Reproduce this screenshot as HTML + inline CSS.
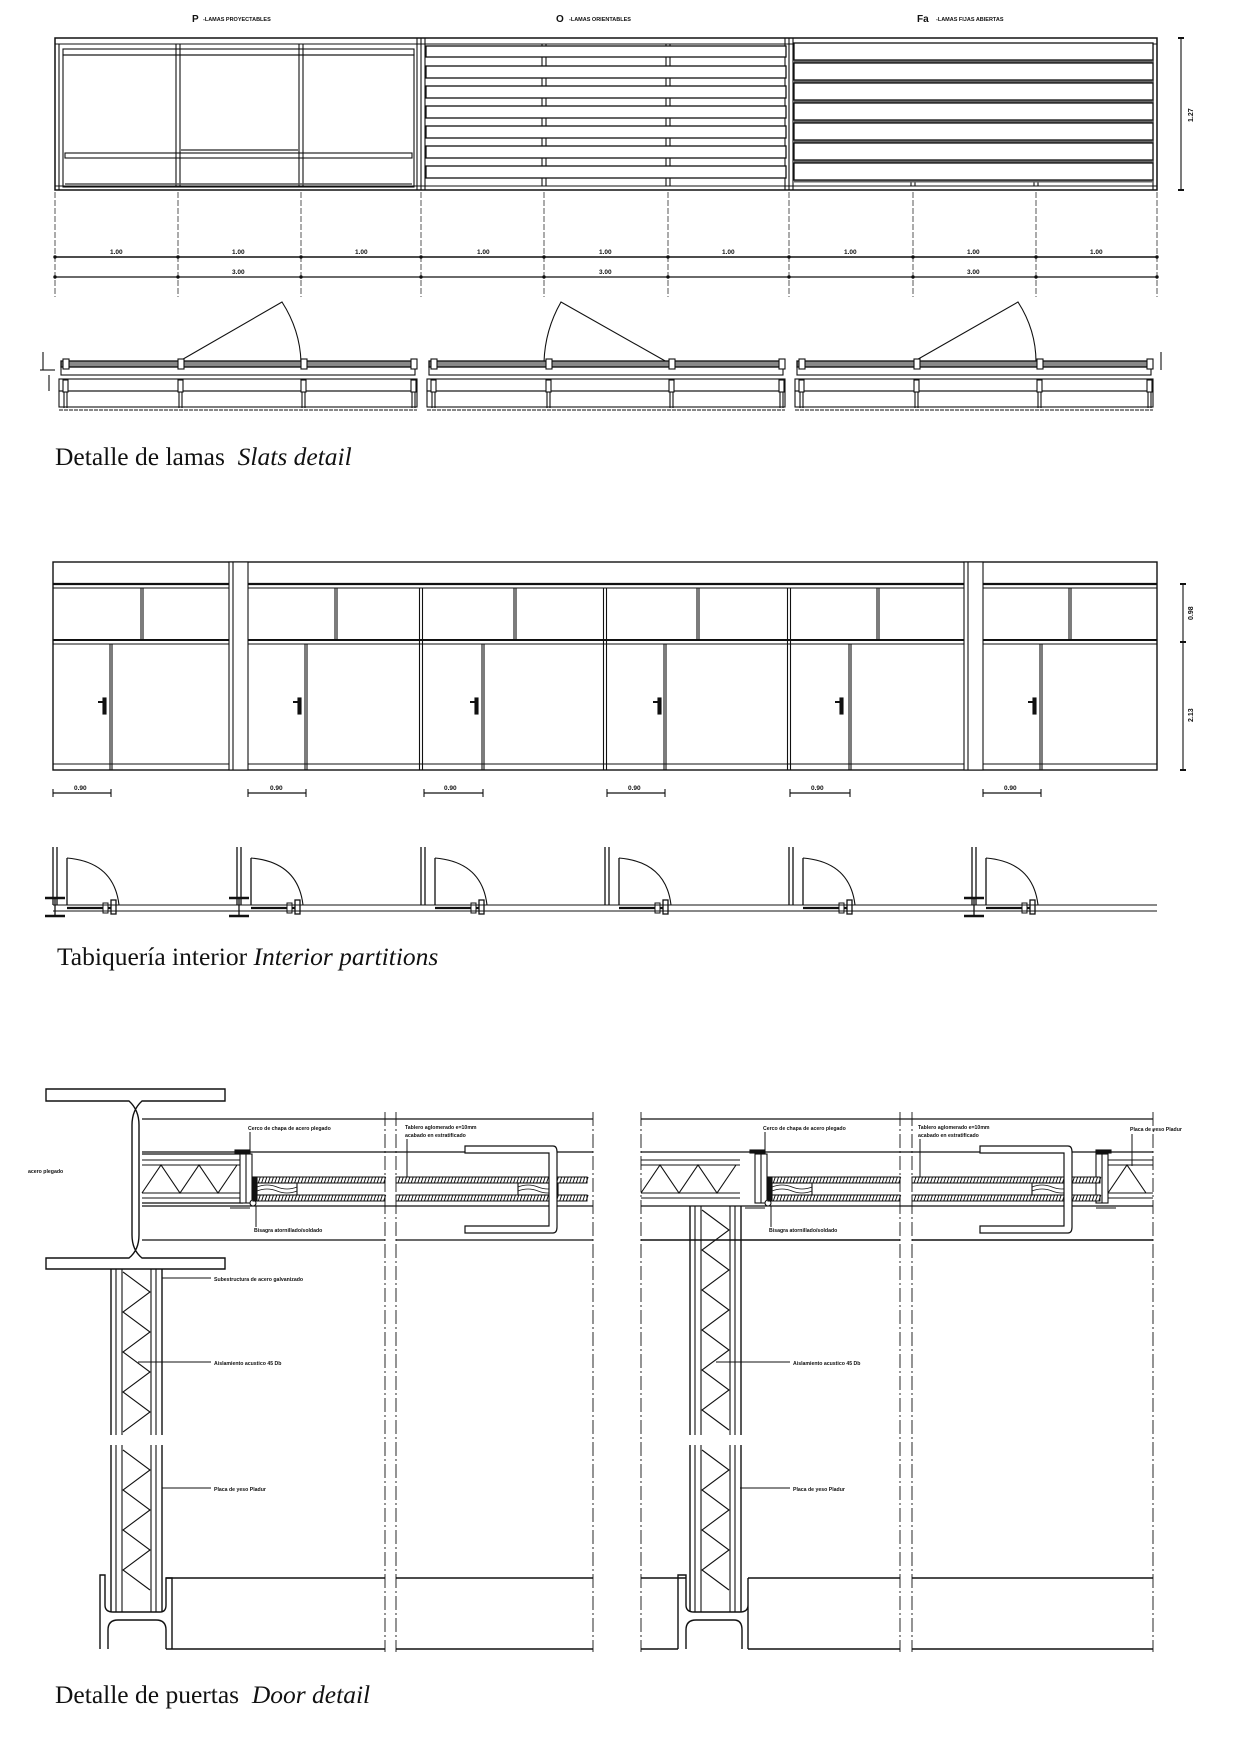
<!DOCTYPE html>
<html><head><meta charset="utf-8">
<style>
html,body{margin:0;padding:0;background:#fff;}
svg{display:block;}
.t{font-family:"Liberation Sans",sans-serif;font-weight:bold;fill:#111;}
.cap{font-family:"Liberation Serif",serif;font-size:25.5px;fill:#111;}
</style></head>
<body>
<svg id="s" width="1254" height="1738" viewBox="0 0 1254 1738" xmlns="http://www.w3.org/2000/svg" fill="none" stroke="#111" stroke-width="1.1">
<!-- ===== SLATS ===== -->
<text class="t" x="192" y="22" font-size="10" stroke="none" font-weight="normal">P</text>
<text class="t" x="203" y="21" font-size="5.5" stroke="none">-LAMAS PROYECTABLES</text>
<text class="t" x="556" y="22" font-size="10" stroke="none" font-weight="normal">O</text>
<text class="t" x="569" y="21" font-size="5.5" stroke="none">-LAMAS ORIENTABLES</text>
<text class="t" x="917" y="22" font-size="10" stroke="none" font-weight="normal">Fa</text>
<text class="t" x="936" y="21" font-size="5.5" stroke="none">-LAMAS FIJAS ABIERTAS</text>

<rect x="55" y="38" width="1102" height="152" stroke-width="1.5"/>
<line x1="55" y1="44" x2="1157" y2="44"/>
<line x1="55" y1="186" x2="1157" y2="186"/>
<line x1="417" y1="38" x2="417" y2="190"/><line x1="421" y1="38" x2="421" y2="190"/><line x1="425" y1="38" x2="425" y2="190"/>
<line x1="785" y1="38" x2="785" y2="190"/><line x1="789" y1="38" x2="789" y2="190"/><line x1="793" y1="38" x2="793" y2="190"/>
<line x1="59" y1="44" x2="59" y2="190"/><line x1="1153" y1="44" x2="1153" y2="190"/>
<!-- P panel -->
<rect x="63" y="49" width="351" height="6"/>
<rect x="63" y="55" width="351" height="132"/>
<rect x="65" y="153" width="347" height="5"/>
<line x1="176" y1="44" x2="176" y2="187"/><line x1="180" y1="44" x2="180" y2="187"/>
<line x1="299" y1="44" x2="299" y2="187"/><line x1="303" y1="44" x2="303" y2="187"/>
<line x1="180" y1="150" x2="299" y2="150" stroke="#777" stroke-width="2"/>
<line x1="65" y1="184" x2="412" y2="184" stroke="#555" stroke-width="1.5"/>
<g id="vcols"></g>
<g id="slatsO"></g>
<g id="slatsF"></g>
<!-- right dim -->
<line x1="1181" y1="38" x2="1181" y2="190"/>
<line x1="1178" y1="38" x2="1184" y2="38" stroke-width="2"/><line x1="1178" y1="190" x2="1184" y2="190" stroke-width="2"/>
<text class="t" font-size="7" stroke="none" transform="translate(1193,122) rotate(-90)">1.27</text>
<!-- dims -->
<g id="dims" stroke-width="0.8"></g>
<line x1="55" y1="257" x2="1157" y2="257" stroke-width="1.5"/>
<line x1="55" y1="277" x2="1157" y2="277" stroke-width="1.2"/>
<g class="t" font-size="6.5" stroke="none">
<text x="110" y="254">1.00</text><text x="232" y="254">1.00</text><text x="355" y="254">1.00</text>
<text x="477" y="254">1.00</text><text x="599" y="254">1.00</text><text x="722" y="254">1.00</text>
<text x="844" y="254">1.00</text><text x="967" y="254">1.00</text><text x="1090" y="254">1.00</text>
<text x="232" y="274">3.00</text><text x="599" y="274">3.00</text><text x="967" y="274">3.00</text>
</g>
<!-- plan swings -->
<path d="M178 362 L282 302 Q300 330 301 362"/>
<path d="M667 362 L561 302 Q545 330 544 362"/>
<path d="M913 362 L1018 302 Q1036 330 1036 362"/>
<g id="plan"></g>
<text class="cap" x="55" y="465" stroke="none">Detalle de lamas <tspan font-style="italic">&#160;Slats detail</tspan></text>

<!-- ===== PARTITIONS ===== -->
<rect x="53" y="562" width="1104" height="208" stroke-width="1.4"/>
<line x1="53" y1="584" x2="1157" y2="584" stroke-width="2.2"/>
<line x1="53" y1="588" x2="1157" y2="588"/>
<line x1="53" y1="640" x2="1157" y2="640" stroke-width="2"/>
<line x1="53" y1="644" x2="1157" y2="644"/>
<line x1="53" y1="764" x2="1157" y2="764"/>
<rect x="229" y="562" width="19" height="208" fill="#fff"/>
<rect x="964" y="562" width="19" height="208" fill="#fff"/>
<line x1="233" y1="562" x2="233" y2="770"/><line x1="968" y1="562" x2="968" y2="770"/>
<g id="part"></g>
<line x1="1183" y1="584" x2="1183" y2="770"/>
<g stroke-width="2"><line x1="1180" y1="584" x2="1186" y2="584"/><line x1="1180" y1="642" x2="1186" y2="642"/><line x1="1180" y1="770" x2="1186" y2="770"/></g>
<text class="t" font-size="7" stroke="none" transform="translate(1193,620) rotate(-90)">0.98</text>
<text class="t" font-size="7" stroke="none" transform="translate(1193,722) rotate(-90)">2.13</text>
<g class="t" font-size="6.5" stroke="none">
<text x="74" y="790">0.90</text><text x="270" y="790">0.90</text><text x="444" y="790">0.90</text>
<text x="628" y="790">0.90</text><text x="811" y="790">0.90</text><text x="1004" y="790">0.90</text>
</g>
<line x1="53" y1="905" x2="1157" y2="905"/><line x1="53" y1="911" x2="1157" y2="911"/>
<text class="cap" x="57" y="965" stroke="none">Tabiquería interior <tspan font-style="italic">Interior partitions</tspan></text>

<!-- ===== DOOR DETAIL ===== -->
<path d="M46 1089 H225 V1101 H142 Q132 1110 132 1125 V1235 Q132 1250 142 1258 H225 V1269 H46 V1258 H129 Q139 1250 139 1235 V1125 Q139 1110 129 1101 H46 Z" stroke-width="1.4"/>
<g stroke-width="1.2">
<line x1="142" y1="1119" x2="593" y2="1119"/><line x1="641" y1="1119" x2="1153" y2="1119"/>
<line x1="142" y1="1152" x2="593" y2="1152"/><line x1="641" y1="1152" x2="1153" y2="1152"/>
<line x1="142" y1="1154" x2="243" y2="1154"/>
<line x1="142" y1="1203" x2="243" y2="1203"/>
<line x1="142" y1="1206" x2="593" y2="1206"/><line x1="641" y1="1206" x2="1153" y2="1206"/>
<line x1="142" y1="1240" x2="385" y2="1240"/><line x1="396" y1="1240" x2="593" y2="1240"/>
<line x1="641" y1="1240" x2="900" y2="1240" stroke-width="1.6"/><line x1="912" y1="1240" x2="1153" y2="1240" stroke-width="1.6"/>
</g>
<g id="door"></g>
<g class="t" font-size="5.2" stroke="none">
<text x="28" y="1173">acero plegado</text>
<text x="248" y="1130">Cerco de chapa de acero plegado</text>
<text x="405" y="1129">Tablero aglomerado e=10mm</text>
<text x="405" y="1137">acabado en estratificado</text>
<text x="254" y="1232">Bisagra atornillado/soldado</text>
<text x="214" y="1281">Subestructura de acero galvanizado</text>
<text x="214" y="1365">Aislamiento acustico 45 Db</text>
<text x="214" y="1491">Placa de yeso Pladur</text>
<text x="763" y="1130">Cerco de chapa de acero plegado</text>
<text x="918" y="1129">Tablero aglomerado e=10mm</text>
<text x="918" y="1137">acabado en estratificado</text>
<text x="1130" y="1131">Placa de yeso Pladur</text>
<text x="769" y="1232">Bisagra atornillado/soldado</text>
<text x="793" y="1365">Aislamiento acustico 45 Db</text>
<text x="793" y="1491">Placa de yeso Pladur</text>
</g>
<g stroke-width="1">
<line x1="162" y1="1278" x2="211" y2="1278"/>
<line x1="138" y1="1362" x2="211" y2="1362"/>
<line x1="162" y1="1488" x2="211" y2="1488"/>
<line x1="716" y1="1362" x2="790" y2="1362"/>
<line x1="740" y1="1488" x2="790" y2="1488"/>
<line x1="250" y1="1132" x2="250" y2="1152"/>
<line x1="765" y1="1132" x2="765" y2="1152"/>
<line x1="256" y1="1206" x2="256" y2="1227"/>
<line x1="771" y1="1206" x2="771" y2="1227"/>
<line x1="407" y1="1139" x2="407" y2="1177"/>
<line x1="920" y1="1139" x2="920" y2="1177"/>
<line x1="1132" y1="1134" x2="1132" y2="1166"/>
</g>
<g stroke-width="1.4">
<line x1="166" y1="1578" x2="385" y2="1578"/><line x1="396" y1="1578" x2="593" y2="1578"/>
<line x1="166" y1="1649" x2="385" y2="1649"/><line x1="396" y1="1649" x2="593" y2="1649"/>
<line x1="641" y1="1578" x2="686" y2="1578"/><line x1="748" y1="1578" x2="900" y2="1578"/><line x1="912" y1="1578" x2="1153" y2="1578"/>
<line x1="641" y1="1649" x2="678" y2="1649"/><line x1="748" y1="1649" x2="900" y2="1649"/><line x1="912" y1="1649" x2="1153" y2="1649"/>
<path d="M100 1649 V1575 H105 V1605 Q105 1612 113 1612 H160 Q166 1612 166 1605 V1578 H172 V1649 M108 1649 V1630 Q108 1620 118 1620 H156 Q166 1620 166 1630 V1649"/>
<path d="M678 1649 V1575 H686 V1605 Q686 1612 694 1612 H740 Q748 1612 748 1605 V1578 H748 V1649 M686 1649 V1630 Q686 1620 696 1620 H734 Q742 1620 742 1630 V1649"/>
</g>
<text class="cap" x="55" y="1703" stroke="none">Detalle de puertas <tspan font-style="italic">&#160;Door detail</tspan></text>
</svg>
<script>
var NS="http://www.w3.org/2000/svg";
function el(p,tag,a){var e=document.createElementNS(NS,tag);for(var k in a)e.setAttribute(k,a[k]);document.getElementById(p).appendChild(e);return e;}
function L(p,x1,y1,x2,y2,w,extra){var a={x1:x1,y1:y1,x2:x2,y2:y2};if(w)a["stroke-width"]=w;if(extra)for(var k in extra)a[k]=extra[k];return el(p,"line",a);}
function R(p,x,y,w,h,a){var o={x:x,y:y,width:w,height:h};if(a)for(var k in a)o[k]=a[k];return el(p,"rect",o);}
[544,668,913,1036].forEach(function(x){L("vcols",x-2,44,x-2,186);L("vcols",x+2,44,x+2,186);});
[[46,57],[66,78],[86,98],[106,118],[126,138],[146,158],[166,178]].forEach(function(s){R("slatsO",426,s[0],360,s[1]-s[0],{fill:"#fff","stroke-width":1.3});});
[[43,60],[63,80],[83,100],[103,120],[123,140],[143,160],[163,180]].forEach(function(s){R("slatsF",794,s[0],359,s[1]-s[0],{fill:"#fff","stroke-width":1.3});L("slatsF",794,s[1]+1.5,1153,s[1]+1.5,2,{stroke:"#666"});});
[55,178,301,421,544,668,789,913,1036,1157].forEach(function(x){L("dims",x,192,x,297,0.7,{"stroke-dasharray":"6 2"});el("dims","circle",{cx:x,cy:257,r:1.3,fill:"#111"});el("dims","circle",{cx:x,cy:277,r:1.3,fill:"#111"});});
[[59,417],[427,785],[795,1153]].forEach(function(p){var s=p[0],e=p[1];
R("plan",s+2,361,e-s-4,6,{fill:"#888","stroke-width":1.3});
R("plan",s+2,367,e-s-4,8);
R("plan",s,379,e-s,12);R("plan",s,391,e-s,16);
L("plan",s,410,e,410,1,{"stroke-dasharray":"4 1"});
[s+4,s+119,s+242,e-6].forEach(function(x){R("plan",x,359,6,10,{fill:"#fff"});R("plan",x,380,5,12,{fill:"#fff"});L("plan",x+1,392,x+1,408);L("plan",x+4,392,x+4,408);});
});
L("plan",43,352,43,370);L("plan",40,370,55,370);L("plan",49,375,49,391);
L("plan",1161,352,1161,370);
[142,336,515,698,878,1070].forEach(function(x){L("part",x-1,588,x-1,640);L("part",x+1,588,x+1,640);});
[421,605,789].forEach(function(x){L("part",x-1.5,588,x-1.5,770);L("part",x+1.5,588,x+1.5,770);});
[111,306,483,665,850,1041].forEach(function(x){L("part",x-1,644,x-1,770);L("part",x+1,644,x+1,770);});
[104,299,476,659,841,1034].forEach(function(x){R("part",x-1,698,3,16,{fill:"#111"});L("part",x-6,702,x,702,2);});
[[53,111],[248,306],[424,483],[607,665],[790,850],[983,1041]].forEach(function(d){L("part",d[0],793,d[1],793,1.2);L("part",d[0],789,d[0],797);L("part",d[1],789,d[1],797);});
[53,237,421,605,789,972].forEach(function(x,i){
L("part",x,847,x,905,1.3);L("part",x+4,847,x+4,905,1.3);
var dx=x+14; L("part",dx,858,dx,905,1.3);
el("part","path",{d:"M"+dx+" 858 Q"+(dx+47)+" 862 "+(dx+52)+" 905"});
R("part",dx+44,900,5,14,{fill:"#fff","stroke-width":1.3});
L("part",dx,908,dx+44,908,2.2);
R("part",dx+36,903,5,10,{fill:"#fff","stroke-width":1});
if(i==0||i==1||i==5){L("part",x-8,898,x+12,898,2.5);L("part",x-8,916,x+12,916,2.5);L("part",x+2,898,x+2,916,1.3);}
});
function zig(p,x1,x2,y1,y2,step){var pts=[],f=0;for(var y=y1;y<=y2;y+=step){pts.push((f?x2:x1)+","+y);f=1-f;}el(p,"polyline",{points:pts.join(" ")});}
function wall(x,yt,yb){
L("door",x,yt,x,yb,1.4);L("door",x+5,yt,x+5,yb);L("door",x+11,yt,x+11,yb);
L("door",x+40,yt,x+40,yb);L("door",x+45,yt,x+45,yb);L("door",x+51,yt,x+51,yb,1.4);
}
wall(111,1269,1435);wall(111,1445,1612);
zig("door",123,150,1272,1432,20);zig("door",123,150,1450,1608,20);
wall(690,1206,1435);wall(690,1445,1612);
zig("door",702,729,1210,1432,20);zig("door",702,729,1450,1608,20);
function ins(x1,x2){
L("door",x1,1165,x2,1165);L("door",x1,1193,x2,1193);L("door",x1,1160,x2,1160);L("door",x1,1198,x2,1198);
var pts=[],f=1;for(var x=x1;x<=x2;x+=19){pts.push(x+","+(f?1193:1165));f=1-f;}el("door","polyline",{points:pts.join(" ")});}
ins(142,240);ins(641,740);ins(1108,1153);
function frame(x){R("door",x,1154,12,49,{fill:"#fff"});L("door",x+6,1154,x+6,1203);R("door",x-5,1150,15,3,{fill:"#111"});L("door",x-10,1208,x+10,1208);el("door","circle",{cx:x+13,cy:1203,r:3,fill:"#fff"});}
frame(240);frame(755);
function frameR(x){R("door",x,1154,12,49,{fill:"#fff"});L("door",x+6,1154,x+6,1203);R("door",x,1150,15,3,{fill:"#111"});L("door",x,1208,x+20,1208);}
frameR(1096);
function leaf(x1,x2){
[1177,1195].forEach(function(y){R("door",x1,y,x2-x1,6,{fill:"#fff","stroke-width":1});
var d="";for(var x=x1+2;x<x2;x+=3.3)d+="M"+x+" "+(y+6)+" L"+(x+2)+" "+y+" ";el("door","path",{d:d,"stroke-width":1});});
}
leaf(253,385);leaf(396,587);leaf(768,900);leaf(912,1100);
R("door",253,1177,4,24,{fill:"#111"});R("door",768,1177,4,24,{fill:"#111"});
function wood(x){R("door",x,1183,40,12,{fill:"#fff"});el("door","path",{d:"M"+x+" 1187 q10 -4 20 0 t20 0 M"+x+" 1191 q10 -4 20 0 t20 0","stroke-width":0.8});}
wood(257);wood(518);wood(772);wood(1032);
function brk(x){el("door","path",{d:"M"+x+" 1146 H"+(x+88)+" Q"+(x+92)+" 1146 "+(x+92)+" 1152 V1227 Q"+(x+92)+" 1233 "+(x+88)+" 1233 H"+x+" V1226 H"+(x+84)+" V1153 H"+x+" Z",fill:"#fff","stroke-width":1.2});}
brk(465);brk(980);
[385,396,593,641,900,912,1153].forEach(function(x){L("door",x,1112,x,1652,0.9,{"stroke-dasharray":"14 3 2 3"});});
</script>
</body></html>
